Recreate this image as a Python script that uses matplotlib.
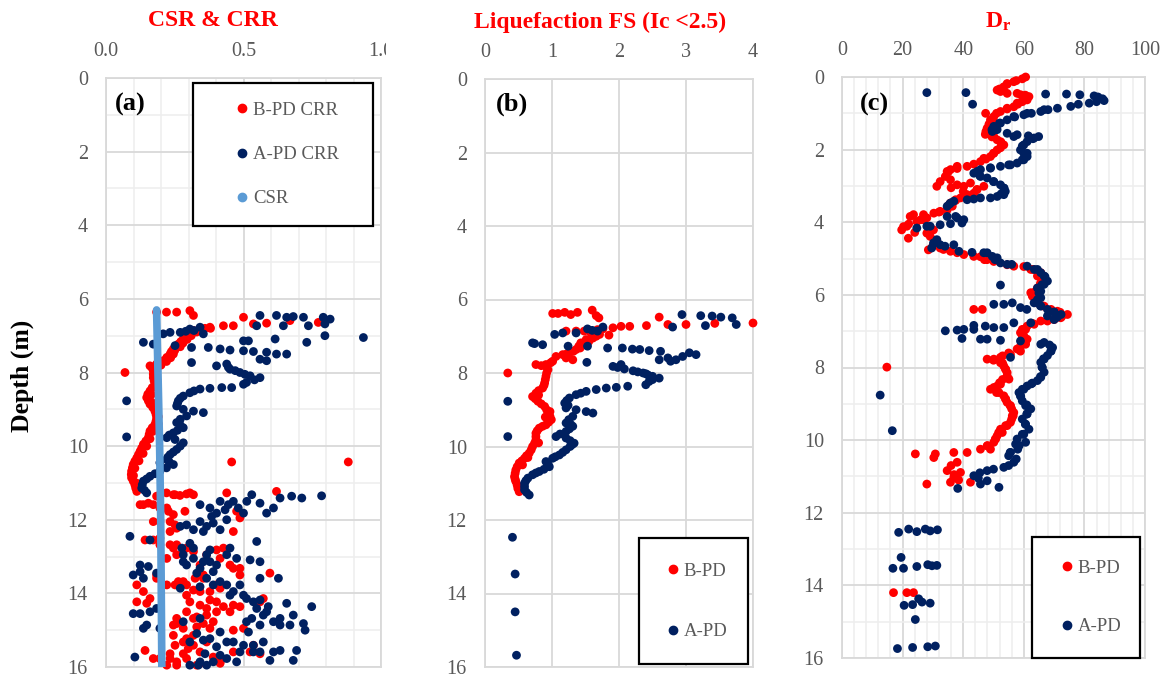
import matplotlib.pyplot as plt
from matplotlib.patches import Rectangle
from matplotlib.lines import Line2D
from matplotlib.ticker import MultipleLocator
from matplotlib.transforms import Bbox

plt.rcParams['font.family'] = 'Liberation Serif'
plt.rcParams['mathtext.fontset'] = 'custom'
plt.rcParams['mathtext.rm'] = 'Liberation Serif'
plt.rcParams['mathtext.bf'] = 'Liberation Serif:bold'

RED = '#FF0000'
NAVY = '#002060'
CSR_BLUE = '#5B9BD5'
GRID = '#D9D9D9'
GRID_MINOR = '#EEEEEE'
TXT = '#595959'

# ---- (a) CSR & CRR : (depth m, value) ----
bpd_crr = [
    (6.36, 0.184), (6.36, 0.22), (6.36, 0.257), (6.32, 0.305), (6.45, 0.318),
    (6.50, 0.50), (6.68, 0.536), (6.66, 0.584), (6.59, 0.669), (6.64, 0.772),
    (6.73, 0.463), (6.73, 0.427), (6.77, 0.378), (6.80, 0.36), (6.82, 0.342),
    (6.86, 0.318), (6.90, 0.30), (6.95, 0.293), (7.02, 0.285), (7.09, 0.281),
    (7.16, 0.272), (7.23, 0.263), (7.30, 0.254), (7.36, 0.245), (7.43, 0.238),
    (7.50, 0.233), (7.59, 0.221), (7.68, 0.208), (7.77, 0.184), (7.82, 0.16),
    (6.80, 0.38), (6.90, 0.33), (7.00, 0.31), (7.10, 0.295), (7.20, 0.28),
    (7.30, 0.27), (7.40, 0.25), (7.50, 0.245), (7.60, 0.235), (7.70, 0.22),
    (7.80, 0.20),
    (7.88, 0.168), (7.95, 0.172), (8.05, 0.172), (8.14, 0.172), (8.23, 0.175),
    (8.32, 0.178), (8.41, 0.168), (8.50, 0.16), (8.59, 0.152), (8.68, 0.148),
    (8.77, 0.154), (8.86, 0.16), (8.95, 0.17), (9.05, 0.178), (9.14, 0.182),
    (9.23, 0.184), (9.32, 0.182), (9.41, 0.178), (9.50, 0.168), (9.59, 0.16),
    (9.68, 0.157), (9.77, 0.154), (9.86, 0.145), (9.95, 0.136), (10.05, 0.13),
    (10.14, 0.124), (10.23, 0.118), (10.32, 0.112), (10.41, 0.105), (10.50, 0.099),
    (10.59, 0.096), (10.68, 0.093), (10.77, 0.092), (10.86, 0.093), (10.95, 0.099),
    (11.05, 0.105), (11.14, 0.108), (11.23, 0.112),
    (8.00, 0.18), (8.20, 0.185), (8.40, 0.18), (8.60, 0.165), (8.80, 0.165),
    (9.00, 0.185), (9.20, 0.19), (9.40, 0.19), (9.60, 0.17), (9.80, 0.16),
    (10.00, 0.148), (10.20, 0.135), (10.40, 0.12), (10.60, 0.105), (10.80, 0.10),
    (11.00, 0.11),
    (8.00, 0.069), (10.43, 0.457), (10.43, 0.881),
    (11.32, 0.196), (11.32, 0.245), (11.27, 0.305), (11.32, 0.318), (11.27, 0.439),
    (11.23, 0.62), (11.59, 0.136), (11.59, 0.172), (11.68, 0.221), (11.77, 0.287),
    (11.77, 0.475), (11.95, 0.487), (12.05, 0.172), (12.05, 0.233), (12.23, 0.257),
    (12.32, 0.463), (12.55, 0.142), (12.68, 0.196), (12.77, 0.245), (12.77, 0.427),
    (12.95, 0.257), (13.05, 0.221), (13.23, 0.342), (13.32, 0.463), (13.50, 0.487),
    (13.45, 0.596), (13.59, 0.184), (13.68, 0.263), (13.77, 0.293), (13.59, 0.354),
    (13.77, 0.402), (13.77, 0.112), (13.95, 0.136), (14.05, 0.293), (13.95, 0.342),
    (14.23, 0.112), (14.27, 0.148), (14.23, 0.402), (14.32, 0.463), (14.14, 0.572),
    (14.41, 0.366), (14.50, 0.402), (14.50, 0.451), (14.68, 0.257), (14.68, 0.318),
    (14.82, 0.354), (14.77, 0.39), (14.86, 0.245), (15.00, 0.463), (14.95, 0.50),
    (15.14, 0.245), (15.23, 0.293), (15.14, 0.318), (15.41, 0.251), (15.50, 0.299),
    (15.55, 0.142), (15.32, 0.366), (15.59, 0.463), (15.59, 0.524), (15.64, 0.56),
    (15.77, 0.172), (15.77, 0.233), (15.86, 0.257), (15.90, 0.342), (15.95, 0.257),
    (15.90, 0.415), (15.95, 0.33),
    (11.36, 0.184), (11.27, 0.22), (11.32, 0.251), (11.34, 0.269), (11.30, 0.293),
    (11.59, 0.124), (11.55, 0.154), (11.68, 0.196), (11.77, 0.227), (11.86, 0.245),
    (12.05, 0.196), (12.14, 0.251), (12.32, 0.233), (12.50, 0.196), (12.68, 0.233),
    (12.55, 0.172), (12.68, 0.257), (12.77, 0.293), (12.86, 0.318), (12.95, 0.366),
    (12.82, 0.402), (13.05, 0.415), (13.23, 0.451), (13.32, 0.487), (13.50, 0.354),
    (13.59, 0.324), (13.68, 0.281), (13.77, 0.251), (13.91, 0.318), (13.95, 0.378),
    (13.86, 0.415), (13.77, 0.221), (13.50, 0.184), (14.14, 0.16), (14.23, 0.305),
    (14.32, 0.342), (14.18, 0.378), (14.36, 0.427), (14.36, 0.487), (14.23, 0.56),
    (14.50, 0.293), (14.64, 0.33), (14.59, 0.366), (14.82, 0.257), (14.95, 0.281),
    (14.91, 0.33), (14.95, 0.378), (15.32, 0.281), (15.41, 0.318), (15.59, 0.342),
    (15.64, 0.281), (15.64, 0.233), (15.77, 0.196), (15.95, 0.221), (15.77, 0.293),
    (15.73, 0.39), (15.86, 0.415), (15.41, 0.536),
]
apd_crr = [
    (6.45, 0.56), (6.45, 0.62), (6.50, 0.657), (6.48, 0.681), (6.50, 0.718),
    (6.50, 0.79), (6.55, 0.815), (6.68, 0.796), (6.73, 0.736), (6.73, 0.645),
    (6.73, 0.548), (7.05, 0.936), (7.00, 0.796), (7.18, 0.73), (7.09, 0.615),
    (7.14, 0.50), (7.14, 0.518), (6.95, 0.208), (6.91, 0.233), (6.91, 0.27),
    (6.82, 0.305), (6.77, 0.342), (6.95, 0.354), (7.18, 0.136), (7.23, 0.172),
    (7.27, 0.251), (7.32, 0.311), (7.32, 0.372), (7.36, 0.415), (7.39, 0.451),
    (7.41, 0.50), (7.43, 0.536), (7.45, 0.584), (7.50, 0.62), (7.50, 0.657),
    (7.64, 0.56), (7.68, 0.584), (7.73, 0.311), (6.86, 0.32), (6.88, 0.29),
    (7.82, 0.402), (7.77, 0.439), (7.86, 0.445), (7.91, 0.451), (7.95, 0.47),
    (8.00, 0.487), (8.05, 0.505), (8.09, 0.524), (8.14, 0.56), (8.20, 0.54),
    (8.27, 0.511), (8.32, 0.50),
    (8.41, 0.457), (8.41, 0.421), (8.43, 0.378), (8.45, 0.342), (8.50, 0.32),
    (8.55, 0.305), (8.64, 0.281), (8.70, 0.27), (8.77, 0.263), (8.84, 0.26),
    (8.91, 0.257), (9.00, 0.281), (9.05, 0.318), (9.09, 0.354), (9.18, 0.293),
    (9.27, 0.27), (9.36, 0.257), (9.43, 0.27), (9.50, 0.281), (9.57, 0.26),
    (9.64, 0.245), (9.70, 0.23), (9.77, 0.221), (9.82, 0.251), (9.91, 0.281),
    (10.00, 0.27), (10.09, 0.257), (10.16, 0.245), (10.23, 0.233), (10.30, 0.225),
    (10.36, 0.221), (10.43, 0.23), (10.50, 0.245), (10.59, 0.22), (10.68, 0.196),
    (10.75, 0.178), (10.82, 0.16), (10.89, 0.148), (10.95, 0.136), (11.05, 0.132),
    (11.14, 0.13), (11.20, 0.14), (11.27, 0.148),
    (8.77, 0.075), (9.75, 0.075), (10.45, 0.196),
    (11.50, 0.415), (11.50, 0.463), (11.32, 0.53), (11.55, 0.56), (11.68, 0.609),
    (11.41, 0.633), (11.36, 0.675), (11.41, 0.712), (11.35, 0.784), (11.82, 0.584),
    (11.82, 0.50), (11.73, 0.433), (11.91, 0.384), (12.09, 0.39), (12.00, 0.439),
    (12.18, 0.27), (12.27, 0.318), (12.32, 0.354), (12.27, 0.415), (12.45, 0.087),
    (12.55, 0.16), (12.64, 0.305), (12.77, 0.318), (12.82, 0.378), (12.77, 0.451),
    (12.59, 0.548), (12.95, 0.281), (13.23, 0.293), (13.32, 0.342), (13.14, 0.378),
    (13.41, 0.39), (13.09, 0.524), (13.14, 0.56), (13.59, 0.56), (13.59, 0.627),
    (13.23, 0.124), (13.27, 0.154), (13.50, 0.099), (13.59, 0.136), (13.45, 0.184),
    (13.86, 0.27), (13.82, 0.342), (13.77, 0.39), (13.77, 0.439), (13.95, 0.463),
    (14.05, 0.50), (14.23, 0.536), (14.18, 0.56), (14.36, 0.59), (14.27, 0.657),
    (14.36, 0.748), (14.55, 0.099), (14.55, 0.124), (14.41, 0.184), (14.95, 0.136),
    (14.95, 0.196), (14.77, 0.281), (14.68, 0.342), (14.68, 0.53), (14.59, 0.572),
    (14.77, 0.609), (14.59, 0.681), (14.82, 0.718), (14.86, 0.633), (15.00, 0.724),
    (15.05, 0.518), (15.05, 0.415), (15.09, 0.33), (15.32, 0.305), (15.23, 0.378),
    (15.32, 0.439), (15.59, 0.487), (15.41, 0.536), (15.32, 0.572), (15.59, 0.609),
    (15.55, 0.693), (15.73, 0.105), (15.64, 0.36), (15.77, 0.439), (15.86, 0.475),
    (15.82, 0.596), (15.82, 0.681), (15.95, 0.305), (15.95, 0.336), (15.86, 0.39),
    (11.59, 0.342), (11.68, 0.378), (11.82, 0.402), (11.59, 0.445), (11.68, 0.481),
    (11.50, 0.512), (12.05, 0.342), (12.18, 0.366), (12.14, 0.293), (12.77, 0.276),
    (13.14, 0.281), (13.05, 0.318), (12.95, 0.366), (13.14, 0.354), (13.23, 0.402),
    (12.95, 0.439), (13.05, 0.475), (13.45, 0.33), (13.59, 0.366), (13.68, 0.415),
    (13.77, 0.487), (14.05, 0.451), (14.14, 0.511), (14.41, 0.548), (14.50, 0.584),
    (14.68, 0.633), (14.86, 0.669), (14.86, 0.56), (14.77, 0.511), (15.32, 0.463),
    (15.41, 0.50), (15.59, 0.536), (15.27, 0.354), (15.45, 0.402), (15.68, 0.415),
    (15.86, 0.342), (15.95, 0.366), (15.59, 0.56), (15.55, 0.633), (14.86, 0.148),
    (14.50, 0.16), (13.41, 0.124),
]
csr_depth = [6.3, 7, 8, 9, 10, 11, 12, 13, 14, 15, 16]
csr_value = [0.184, 0.186, 0.189, 0.192, 0.195, 0.197, 0.199, 0.200, 0.201, 0.202, 0.203]

# ---- (b) Liquefaction FS : (depth m, FS) ----
bpd_fs = [
    (6.38, 1.01), (6.38, 1.09), (6.35, 1.19), (6.41, 1.28), (6.35, 1.38),
    (6.29, 1.60), (6.44, 1.66), (6.50, 1.70), (6.48, 2.60), (6.68, 2.73),
    (6.68, 3.00), (6.65, 3.43), (6.64, 4.00), (6.86, 1.21), (6.86, 1.36),
    (6.86, 1.48), (6.91, 1.58), (6.97, 1.85), (6.77, 1.91), (6.73, 2.03),
    (6.73, 2.16), (6.71, 2.41), (6.80, 1.76), (6.82, 1.68),
    (6.95, 1.71), (7.05, 1.61), (7.09, 1.51), (7.18, 1.43), (7.27, 1.40),
    (7.36, 1.36), (7.45, 1.26), (7.50, 1.16), (7.55, 1.06), (7.59, 1.21),
    (7.64, 1.31), (7.68, 1.01), (7.77, 0.91), (7.77, 0.76), (7.84, 0.92),
    (7.00, 1.66), (7.14, 1.55), (7.23, 1.45), (7.32, 1.42), (7.41, 1.32),
    (7.48, 1.22), (7.72, 0.98), (7.80, 0.84),
    (7.91, 0.94), (8.00, 0.92), (8.09, 0.91), (8.18, 0.90), (8.27, 0.89),
    (8.34, 0.88), (8.41, 0.86), (8.48, 0.80), (8.55, 0.76), (8.64, 0.71),
    (8.70, 0.75), (8.77, 0.79), (8.84, 0.84), (8.91, 0.89), (9.00, 0.92),
    (9.09, 0.94), (9.18, 0.97), (9.27, 0.99), (9.34, 0.95), (9.41, 0.91),
    (9.50, 0.81), (9.57, 0.78), (9.64, 0.76), (9.73, 0.76), (9.82, 0.76),
    (9.91, 0.74), (10.00, 0.71), (10.09, 0.69), (10.18, 0.66), (10.25, 0.62),
    (10.32, 0.59), (10.39, 0.55), (10.45, 0.51), (10.55, 0.48), (10.64, 0.46),
    (10.73, 0.45), (10.82, 0.44), (10.89, 0.45), (10.95, 0.46), (11.05, 0.48),
    (11.14, 0.49), (11.23, 0.51),
    (8.60, 0.80), (9.05, 0.97), (9.20, 0.90), (9.45, 0.86), (9.90, 0.80),
    (10.30, 0.64), (10.50, 0.56),
    (8.00, 0.34),
]
apd_fs = [
    (6.41, 2.94), (6.44, 3.22), (6.45, 3.39), (6.48, 3.52), (6.50, 3.69),
    (6.68, 3.75), (6.71, 3.29), (6.75, 2.80),
    (7.32, 1.83), (7.32, 2.05), (7.35, 2.20), (7.36, 2.31), (7.39, 2.45),
    (7.41, 2.62), (7.59, 2.73), (7.64, 2.85), (7.55, 2.95), (7.45, 3.05),
    (7.50, 3.15), (7.64, 2.60), (7.68, 2.77),
    (7.18, 0.71), (7.23, 0.86), (6.95, 1.04), (6.91, 1.16), (6.91, 1.36),
    (6.80, 1.53), (6.86, 1.68), (6.75, 1.76), (7.27, 1.24), (7.27, 1.53),
    (7.71, 1.52), (7.20, 0.74), (6.84, 1.60),
    (7.82, 1.91), (7.77, 2.03), (7.89, 2.08), (7.94, 2.21), (7.97, 2.28),
    (8.00, 2.36), (8.05, 2.43), (8.09, 2.50), (8.14, 2.60), (8.23, 2.45),
    (8.32, 2.40), (7.85, 1.98), (8.02, 2.40), (8.18, 2.50),
    (8.36, 2.13), (8.39, 1.96), (8.41, 1.81), (8.45, 1.66), (8.50, 1.51),
    (8.55, 1.43), (8.59, 1.36), (8.68, 1.26), (8.75, 1.22), (8.82, 1.19),
    (8.95, 1.21), (9.00, 1.36), (9.05, 1.51), (9.09, 1.61), (9.18, 1.31),
    (9.27, 1.25), (9.36, 1.21), (9.45, 1.31), (9.52, 1.26), (9.59, 1.21),
    (9.66, 1.12), (9.73, 1.06), (9.77, 1.21), (9.84, 1.27), (9.91, 1.33),
    (10.00, 1.27), (10.09, 1.21), (10.16, 1.16), (10.23, 1.11), (10.32, 1.01),
    (10.41, 0.91), (10.48, 0.94), (10.55, 0.96), (10.62, 0.88), (10.68, 0.81),
    (10.77, 0.71), (10.86, 0.64), (10.93, 0.61), (11.00, 0.59), (11.09, 0.59),
    (11.18, 0.59), (11.25, 0.62), (11.32, 0.66),
    (8.88, 1.24), (9.40, 1.28), (9.95, 1.30), (10.28, 1.05), (10.72, 0.76),
    (8.77, 0.34), (9.73, 0.34), (12.47, 0.41), (13.47, 0.45), (14.50, 0.45),
    (15.68, 0.47),
]

# ---- (c) Dr : (depth m, Dr %) ----
bpd_dr = [
    (0.00, 60.6), (0.05, 59.5), (0.10, 57.5), (0.13, 56.7), (0.20, 54.5),
    (0.27, 53.4), (0.33, 52.0), (0.40, 52.3), (0.45, 57.8), (0.50, 60.5),
    (0.54, 61.7), (0.60, 60.8), (0.68, 59.5), (0.75, 58.0), (0.82, 56.7),
    (0.88, 54.5), (0.95, 52.3), (1.00, 51.0), (1.00, 47.4), (1.09, 50.1),
    (1.16, 49.8), (1.23, 49.6), (1.30, 48.5), (1.41, 47.9), (1.50, 47.5),
    (1.58, 47.3), (1.65, 49.5), (1.73, 51.2), (1.80, 52.5), (1.87, 53.4),
    (1.95, 52.3), (2.01, 51.2), (2.10, 50.0), (2.19, 49.0), (2.26, 47.5),
    (2.33, 45.7), (2.40, 43.5), (2.46, 41.3), (2.52, 38.0), (2.55, 35.8),
    (2.62, 35.0), (2.74, 34.1), (2.83, 35.8), (2.92, 42.4), (2.97, 38.0),
    (3.01, 31.3), (3.01, 46.8), (3.05, 36.0), (3.10, 44.5), (3.15, 40.0),
    (3.20, 43.5), (3.27, 41.0), (3.33, 39.1), (3.40, 37.5), (3.47, 35.8),
    (3.55, 35.0), (3.66, 34.7), (3.72, 32.0), (3.75, 30.3), (3.79, 26.9),
    (3.79, 23.6), (3.88, 28.0), (3.93, 26.0), (3.98, 24.7), (4.05, 22.0),
    (4.12, 20.3), (4.21, 19.7), (4.28, 24.0), (4.30, 28.0), (4.39, 29.1),
    (4.44, 21.9), (4.55, 30.5), (4.65, 30.0), (4.71, 32.4), (4.76, 28.5),
    (4.80, 35.8), (4.89, 40.2), (4.95, 45.7), (5.03, 47.0), (5.08, 50.1),
    (5.17, 54.5), (5.22, 60.0), (5.30, 63.0), (5.39, 65.6), (5.48, 66.5),
    (5.58, 66.7), (5.70, 65.5), (5.81, 64.5), (5.94, 62.3), (6.05, 63.0),
    (6.15, 64.0), (6.22, 64.5), (6.30, 66.0), (6.40, 69.0), (6.48, 72.0),
    (6.54, 74.4), (6.60, 72.5), (6.68, 70.0), (6.72, 65.6), (6.79, 63.0),
    (6.86, 61.1), (6.95, 59.5), (7.04, 58.9), (7.13, 60.0), (7.22, 61.1),
    (7.30, 60.5), (7.40, 59.0), (7.49, 57.8), (7.60, 55.0), (7.68, 53.0),
    (7.72, 52.3), (7.77, 47.9), (7.80, 50.0), (7.88, 53.0), (7.96, 53.4),
    (8.05, 54.0), (8.14, 54.5), (8.23, 54.5), (8.33, 53.0), (8.42, 52.0),
    (8.51, 51.2), (8.60, 49.0), (8.69, 51.0), (8.78, 53.4), (8.87, 54.0),
    (8.96, 54.5), (9.05, 55.5), (9.14, 56.0), (9.24, 56.7), (9.33, 56.5),
    (9.42, 56.0), (9.51, 55.6), (9.60, 54.0), (9.70, 52.3), (9.79, 51.7),
    (9.88, 51.2), (9.97, 50.6), (10.06, 50.1), (10.15, 48.0), (10.25, 45.7),
    (10.25, 49.0), (10.34, 41.3), (10.34, 36.9), (10.38, 30.8), (10.38, 24.2),
    (10.48, 30.3), (10.61, 38.0), (10.70, 36.0), (10.84, 34.7), (10.89, 39.1),
    (10.95, 37.0), (11.03, 36.9), (11.10, 38.5), (11.16, 35.8), (11.16, 42.4),
    (11.21, 28.0),
    (0.18, 54.5), (0.36, 51.2), (0.45, 54.5), (0.49, 59.0), (0.63, 61.1),
    (0.72, 57.8), (0.86, 54.5), (1.18, 49.0), (1.55, 47.9), (1.64, 50.1),
    (1.78, 52.3), (2.10, 50.1), (2.24, 46.8), (2.46, 38.0), (2.60, 34.7),
    (2.88, 32.4), (3.01, 40.2), (3.10, 44.6), (3.24, 41.3), (3.38, 37.5),
    (3.56, 36.4), (3.70, 32.4), (3.84, 22.5), (4.11, 21.4), (3.93, 26.9),
    (4.21, 30.2), (4.52, 31.3), (4.75, 33.5), (4.84, 38.0), (4.94, 43.5),
    (5.03, 47.9), (5.21, 56.7),
    (5.30, 62.3), (5.48, 64.5), (5.67, 65.6), (5.90, 63.9), (6.03, 62.8),
    (6.17, 64.5), (6.31, 66.7), (6.45, 71.1), (6.63, 72.2), (6.72, 67.8),
    (6.81, 63.4), (6.95, 60.6), (7.13, 59.5), (7.36, 60.6), (7.55, 58.9),
    (7.64, 55.6), (7.77, 50.1), (7.87, 52.3), (8.05, 54.0), (8.32, 55.1),
    (8.46, 52.3), (8.55, 50.1), (8.69, 51.8), (8.87, 54.0), (9.05, 55.6),
    (9.33, 56.2), (9.60, 54.5), (9.79, 52.9), (9.97, 50.7), (10.16, 47.9),
    (6.40, 43.5), (6.40, 46.3), (7.99, 14.8), (14.20, 17.0), (14.20, 21.4),
    (14.20, 23.6),
]
apd_dr = [
    (0.43, 28.0), (0.43, 40.9), (0.75, 43.1), (0.47, 67.2), (0.47, 74.1),
    (0.49, 78.5), (0.52, 83.2), (0.55, 84.5), (0.60, 86.0), (0.65, 86.5),
    (0.68, 84.0), (0.72, 81.6), (0.75, 78.0), (0.81, 75.5), (0.86, 71.1),
    (0.90, 68.0), (0.95, 65.6), (1.00, 62.5), (1.04, 60.0), (1.10, 57.0),
    (1.18, 54.5), (1.27, 52.0), (1.36, 50.1), (1.45, 49.5), (1.50, 49.6),
    (1.55, 54.5), (1.59, 57.8), (1.62, 61.5), (1.64, 64.9), (1.70, 63.0),
    (1.78, 61.1), (1.90, 59.5), (2.01, 58.9), (2.10, 60.0), (2.19, 61.1),
    (2.28, 60.0), (2.37, 57.8), (2.42, 55.0), (2.46, 52.3), (2.50, 49.0),
    (2.55, 45.7), (2.65, 43.5), (2.72, 45.5), (2.78, 47.9), (2.88, 50.0),
    (2.97, 52.3), (3.06, 53.5), (3.15, 53.9), (3.22, 52.5), (3.29, 51.2),
    (3.33, 45.7), (3.36, 43.5), (3.38, 41.3), (3.42, 36.9), (3.50, 35.5),
    (3.56, 34.7), (3.84, 34.7), (3.88, 38.0), (3.93, 40.2), (4.02, 39.6),
    (4.04, 35.8), (4.07, 32.4), (4.11, 29.1), (4.16, 24.7), (4.48, 31.3),
    (4.55, 31.0), (4.62, 32.4), (4.62, 36.9), (4.71, 29.6), (4.80, 38.6),
    (4.83, 42.9), (4.84, 47.9), (4.94, 49.6), (5.03, 50.5), (5.12, 52.3),
    (5.16, 56.0), (5.21, 61.1), (5.30, 63.5), (5.39, 65.6), (5.50, 67.0),
    (5.62, 67.8), (5.73, 52.3), (5.72, 66.0), (5.81, 64.5), (5.95, 65.0),
    (6.08, 65.6), (6.22, 63.4), (6.30, 65.5), (6.40, 67.8), (6.47, 70.0),
    (6.54, 72.3), (6.62, 71.0), (6.68, 70.0), (6.26, 50.1), (6.26, 53.4),
    (6.22, 56.2), (6.35, 58.9), (6.40, 61.0), (6.99, 34.1), (6.97, 38.0),
    (6.95, 40.2), (6.84, 43.5), (6.95, 43.5), (6.86, 47.3), (6.90, 50.1),
    (6.90, 53.4), (6.77, 56.7), (6.77, 62.3), (7.20, 39.6), (7.22, 45.7),
    (7.22, 47.9), (7.25, 52.3), (7.27, 58.9), (7.31, 66.7), (7.38, 68.5),
    (7.45, 69.5), (7.55, 69.0), (7.67, 67.8), (7.72, 55.6), (7.76, 66.5),
    (7.86, 65.6), (7.99, 66.0), (8.13, 66.7), (8.25, 65.5), (8.36, 64.5),
    (8.45, 62.5), (8.51, 61.1), (8.60, 59.5), (8.69, 58.4), (8.80, 59.0),
    (8.92, 59.5), (9.03, 61.0), (9.14, 62.3), (9.28, 61.0), (9.42, 59.5),
    (9.56, 60.5), (9.70, 61.7), (9.84, 59.5), (9.97, 57.8), (10.06, 60.6),
    (10.15, 58.5), (10.25, 58.0), (10.34, 55.5), (10.43, 55.0), (10.52, 57.5),
    (10.61, 56.7), (10.70, 55.0), (10.75, 53.4), (10.80, 50.0), (10.84, 47.9),
    (10.90, 45.5), (10.98, 43.5), (11.05, 45.0), (11.12, 47.9), (11.21, 45.7),
    (11.30, 51.8), (11.33, 38.2),
    (0.90, 66.7), (1.00, 61.1), (1.09, 56.7), (1.27, 52.3), (1.45, 51.2),
    (1.64, 56.7), (1.68, 63.4), (1.87, 60.0), (2.10, 61.1), (2.28, 59.5),
    (2.42, 55.6), (2.51, 49.0), (2.60, 44.6), (2.74, 45.7), (2.88, 50.1),
    (3.06, 53.4), (3.24, 53.4), (3.33, 49.0), (3.47, 35.8), (3.84, 37.5),
    (4.11, 28.0), (4.57, 30.2), (4.66, 34.0), (4.84, 46.8), (4.98, 51.2),
    (5.16, 54.5),
    (5.30, 64.5), (5.48, 66.7), (5.71, 66.7), (5.90, 65.6), (6.13, 64.5),
    (6.31, 65.6), (6.48, 70.0), (6.58, 67.8), (7.36, 65.6), (7.55, 68.9),
    (7.77, 66.7), (8.00, 66.1), (8.27, 65.6), (8.43, 62.8), (8.60, 60.0),
    (8.78, 58.9), (9.05, 60.6), (9.28, 61.1), (9.56, 60.6), (9.84, 60.0),
    (10.11, 57.3), (10.34, 55.6),
    (8.76, 12.6), (9.74, 16.6),
    (12.54, 18.7), (12.45, 22.0), (12.52, 24.7), (12.45, 27.5), (12.50, 29.1),
    (12.47, 31.5), (13.23, 19.5), (13.53, 16.8), (13.53, 20.3), (13.48, 24.7),
    (13.43, 28.3), (13.46, 29.7), (13.45, 31.3), (14.37, 25.3), (14.46, 26.4),
    (14.49, 29.1), (14.55, 20.5), (14.53, 23.3), (14.94, 24.2), (15.74, 18.3),
    (15.71, 23.3), (15.69, 28.3), (15.67, 30.8),
]

W, H = 1164, 680
fig = plt.figure(figsize=(W / 100, H / 100), dpi=100)


def fx(px):
    return px / W


def fy(py):
    return 1 - py / H


def make_axes(left, top, right, bottom):
    return fig.add_axes([fx(left), fy(bottom), fx(right) - fx(left), (bottom - top) / H])


def style(ax, xmax, xmajor, xminor, yminor, fmt=None):
    ax.set_xlim(0, xmax)
    ax.set_ylim(16, 0)
    ax.xaxis.tick_top()
    ax.xaxis.set_major_locator(MultipleLocator(xmajor))
    ax.yaxis.set_major_locator(MultipleLocator(2))
    if xminor:
        ax.xaxis.set_minor_locator(MultipleLocator(xminor))
    if yminor:
        ax.yaxis.set_minor_locator(MultipleLocator(1))
    if fmt:
        ax.xaxis.set_major_formatter(fmt)
    ax.grid(which='major', color=GRID, lw=1.3)
    ax.grid(which='minor', color=GRID_MINOR, lw=1.1)
    ax.set_axisbelow(True)
    ax.tick_params(which='both', length=0, labelsize=14.5, labelcolor=TXT)
    ax.tick_params(axis='x', pad=12)
    ax.tick_params(axis='y', pad=13)
    for s in ax.spines.values():
        s.set_color(GRID)
        s.set_linewidth(1.3)


def scatter(ax, pts, color, s=40):
    d, v = zip(*pts)
    ax.scatter(v, d, s=s, color=color, edgecolors='none', clip_on=False, zorder=3)


def legend_box(box, entries, centre_y, marker_x, spacing):
    left, top, right, bottom = box
    fig.add_artist(Rectangle((fx(left), fy(bottom)), fx(right) - fx(left), (bottom - top) / H,
                             transform=fig.transFigure, facecolor='white',
                             edgecolor='black', lw=1.6, zorder=4))
    handles = [Line2D([], [], ls='none', marker='o', ms=6, color=c) for c, _ in entries]
    fig.legend(handles, [t for _, t in entries], loc='center left',
               bbox_to_anchor=(fx(marker_x - 5), fy(centre_y)), frameon=False,
               fontsize=13.5, labelcolor=TXT, handlelength=0.55, handletextpad=0.3,
               borderpad=0, borderaxespad=0, labelspacing=spacing)


# (a)
ax_a = make_axes(106, 78, 381, 667)
style(ax_a, 1.0, 0.5, 0.1, True, fmt='{x:.1f}')
scatter(ax_a, bpd_crr, RED)
scatter(ax_a, apd_crr, NAVY)
ax_a.plot(csr_value, csr_depth, color=CSR_BLUE, lw=5.5, solid_capstyle='round', zorder=4)
for t in ax_a.xaxis.get_major_ticks():
    t.label2.set_clip_box(Bbox([[0, 0], [386, H]]))
    t.label2.set_clip_on(True)

# (b)
ax_b = make_axes(485, 79, 753, 667)
style(ax_b, 4, 1, None, False)
scatter(ax_b, bpd_fs, RED)
scatter(ax_b, apd_fs, NAVY)

# (c)
ax_c = make_axes(842, 77, 1145, 658)
style(ax_c, 100, 20, 4, True)
scatter(ax_c, bpd_dr, RED)
scatter(ax_c, apd_dr, NAVY)

# titles and labels
fig.text(fx(213), fy(20), 'CSR & CRR', color=RED, fontsize=17, fontweight='bold',
         ha='center', va='center')
fig.text(fx(600), fy(22), 'Liquefaction FS (Ic <2.5)', color=RED, fontsize=17,
         fontweight='bold', ha='center', va='center')
fig.text(fx(998), fy(22), r'$\mathbf{D_r}$', color=RED, fontsize=17, ha='center', va='center')
fig.text(fx(22), fy(376), 'Depth (m)', rotation=90, fontsize=18.5, fontweight='bold',
         ha='center', va='center')
for lbl, px in [('(a)', 115), ('(b)', 496), ('(c)', 860)]:
    fig.text(fx(px), fy(104), lbl, fontsize=19, fontweight='bold', ha='left', va='center')

legend_box((193, 83, 373, 226), [(RED, 'B-PD CRR'), (NAVY, 'A-PD CRR'), (CSR_BLUE, 'CSR')],
           154.5, 242, 1.45)
legend_box((639, 538, 748, 664), [(RED, 'B-PD'), (NAVY, 'A-PD')], 601.5, 673, 2.3)
legend_box((1032, 537, 1140, 658), [(RED, 'B-PD'), (NAVY, 'A-PD')], 597.5, 1067, 2.2)

fig.savefig('out.png', dpi=100)
